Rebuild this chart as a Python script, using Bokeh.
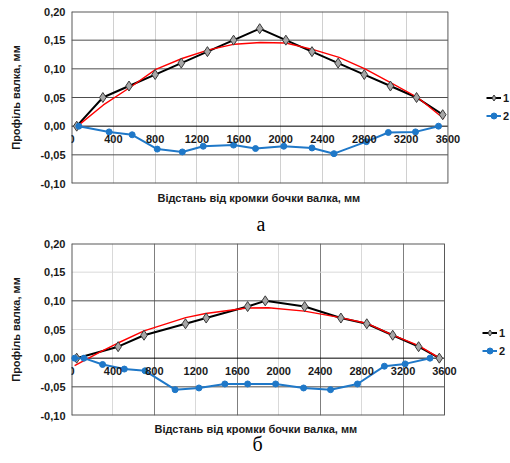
from bokeh.plotting import figure
from bokeh.layouts import column
from bokeh.models import (Range1d, FixedTicker, Grid, Title, Legend,
                          LegendItem, CustomJSTickFormatter)
from bokeh.embed import file_html
from bokeh.resources import INLINE

# ---------------- data ----------------
x_tick_vals = [0, 400, 800, 1200, 1600, 2000, 2400, 2800, 3200, 3600]
y_ticks = [-0.10, -0.05, 0.00, 0.05, 0.10, 0.15, 0.20]
x_max = 3600
y_min, y_max = -0.10, 0.20

# chart "а"
a_x1 = [50, 300, 550, 800, 1050, 1300, 1550, 1800, 2050, 2300, 2550, 2800, 3050, 3300, 3550]
a_y1 = [0.0, 0.05, 0.07, 0.09, 0.11, 0.13, 0.15, 0.17, 0.15, 0.13, 0.11, 0.09, 0.07, 0.05, 0.02]
a_x2 = [70, 360, 580, 820, 1060, 1260, 1550, 1760, 2030, 2300, 2510, 2820, 3030, 3290, 3510]
a_y2 = [0.0, -0.01, -0.015, -0.04, -0.045, -0.035, -0.033, -0.039, -0.035, -0.038, -0.048,
        -0.027, -0.011, -0.01, 0.0]
a_trend_x = [57, 305, 559, 806, 1057, 1311, 1559, 1807, 2050, 2305, 2559, 2807, 3060, 3311, 3562]
a_trend_y = [0.0, 0.037, 0.0675, 0.099, 0.118, 0.133, 0.143, 0.146, 0.145, 0.134, 0.120,
             0.100, 0.075, 0.050, 0.013]

# chart "б"
b_x1 = [50, 450, 700, 1100, 1300, 1700, 1870, 2250, 2600, 2850, 3100, 3350, 3550]
b_y1 = [0.0, 0.02, 0.04, 0.06, 0.07, 0.09, 0.10, 0.09, 0.07, 0.06, 0.04, 0.02, 0.0]
b_x2 = [30, 120, 300, 510, 710, 1000, 1230, 1480, 1700, 1970, 2240, 2500, 2760, 3020, 3220, 3460]
b_y2 = [0.0, 0.0, -0.011, -0.019, -0.022, -0.055, -0.052, -0.045, -0.045, -0.045, -0.052,
        -0.055, -0.045, -0.014, -0.010, 0.0]
b_trend_x = [30, 283, 443, 700, 1102, 1295, 1696, 1900, 2249, 2596, 2846, 3097, 3351, 3553]
b_trend_y = [-0.013, 0.0115, 0.026, 0.0475, 0.0707, 0.078, 0.0875, 0.088, 0.082, 0.0707,
             0.061, 0.0405, 0.022, 0.0]

series_labels = ["1", "2"]
x_title = "Відстань від кромки бочки валка, мм"
y_title = "Профіль валка, мм"
captions = ["а", "б"]

SANS = "Liberation Sans"
SERIF = "Liberation Serif"
TXT = "#1a1a1a"
W = 510


def build(h, ml, frame_w, mt, mb, x1, y1, x2, y2, tx, ty, caption,
          lab_standoff, lab_offset, cap_standoff, cap_offset,
          dark_x, light_x, dark_y, light_y, leg_x, leg_y):
    # plot area spans 0..3600; the frame continues to the right edge to hold the legend
    x_end = x_max * (W - ml) / frame_w
    p = figure(width=W, height=h, x_range=Range1d(0, x_end), y_range=Range1d(y_min, y_max),
               output_backend="svg", toolbar_location=None,
               min_border_left=ml, min_border_right=0, min_border_top=mt,
               min_border_bottom=mb)
    p.background_fill_color = "white"
    p.outline_line_color = None

    # vertical grid
    p.xgrid.ticker = FixedTicker(ticks=dark_x)
    p.xgrid.grid_line_color = "#7f7f7f" if light_x else "#d0d0d0"
    if light_x:
        p.add_layout(Grid(dimension=0, ticker=FixedTicker(ticks=light_x),
                          grid_line_color="#d9d9d9"))
    # horizontal grid limited to the plot area
    p.ygrid.grid_line_color = None
    if light_y:
        p.segment(x0=[0] * len(light_y), x1=[x_max] * len(light_y), y0=light_y, y1=light_y,
                  line_color="#d9d9d9", line_width=1)
    p.segment(x0=[0] * len(dark_y), x1=[x_max] * len(dark_y), y0=dark_y, y1=dark_y,
              line_color="#4d4d4d", line_width=1)
    p.segment(x0=[0], x1=[x_max], y0=[0], y1=[0], line_color="black", line_width=1)
    # plot-area border
    p.segment(x0=[0, 0, 0, x_max], x1=[x_max, x_max, 0, x_max],
              y0=[y_min, y_max, y_min, y_min], y1=[y_min, y_max, y_max, y_max],
              line_color="#595959", line_width=[2, 2, 2, 1])

    # x axis: tick labels drawn along the zero line
    xa = p.xaxis[0]
    xa.fixed_location = 0
    xa.ticker = FixedTicker(ticks=x_tick_vals)
    xa.axis_line_color = None
    xa.major_tick_line_color = None
    xa.minor_tick_line_color = None
    xa.major_tick_out = 0
    xa.major_tick_in = 0
    xa.major_label_standoff = 9
    xa.major_label_text_font = SANS
    xa.major_label_text_font_size = "11px"
    xa.major_label_text_font_style = "bold"
    xa.major_label_text_color = TXT

    # y axis
    ya = p.yaxis[0]
    ya.ticker = FixedTicker(ticks=y_ticks)
    ya.formatter = CustomJSTickFormatter(code="return tick.toFixed(2).replace('.', ',');")
    ya.axis_line_color = None
    ya.major_tick_line_color = None
    ya.minor_tick_line_color = None
    ya.major_tick_out = 0
    ya.major_label_standoff = 6
    ya.major_label_text_font = SANS
    ya.major_label_text_font_size = "11px"
    ya.major_label_text_font_style = "bold"
    ya.major_label_text_color = TXT
    ya.axis_label = y_title
    ya.axis_label_standoff = 15
    ya.axis_label_text_font = SANS
    ya.axis_label_text_font_size = "11px"
    ya.axis_label_text_font_style = "bold"
    ya.axis_label_text_color = TXT

    # series
    l1 = p.line(x1, y1, line_color="black", line_width=2)
    p.line(tx, ty, line_color="#ff0000", line_width=1.4)
    s1 = p.scatter(x1, y1, marker="diamond", size=10, fill_color="#a6a6a6",
                   line_color="#3a3a3a", line_width=1)
    l2 = p.line(x2, y2, line_color="#1f78c8", line_width=2)
    s2 = p.scatter(x2, y2, marker="circle", size=6, fill_color="#1f78c8",
                   line_color="#1f78c8")

    legend = Legend(items=[LegendItem(label=series_labels[0], renderers=[l1, s1]),
                           LegendItem(label=series_labels[1], renderers=[l2, s2])],
                    location=(leg_x, leg_y), padding=0, margin=0, spacing=3,
                    glyph_width=15, glyph_height=15, label_height=15, label_standoff=2,
                    label_text_font=SANS, label_text_font_size="11px",
                    label_text_font_style="bold", label_text_color=TXT,
                    border_line_color=None, background_fill_alpha=0)
    p.add_layout(legend)

    p.add_layout(Title(text=x_title, align="left", offset=lab_offset, text_font=SANS,
                       text_font_size="11px", text_font_style="bold",
                       text_color=TXT, standoff=lab_standoff), "below")
    p.add_layout(Title(text=caption, align="left", offset=cap_offset, text_font=SERIF,
                       text_font_size="20px", text_font_style="normal",
                       text_color="black", standoff=cap_standoff), "below")
    return p


pa = build(234, 68, 379, 11, 50, a_x1, a_y1, a_x2, a_y2, a_trend_x, a_trend_y, captions[0],
           13, 86, 0, 185,
           [400, 800, 1200, 1600, 2000, 2400, 2800, 3200], [],
           [-0.05, 0.05, 0.10, 0.15], [], 415, 60)
pb = build(229, 71, 373, 9, 48, b_x1, b_y1, b_x2, b_y2, b_trend_x, b_trend_y, captions[1],
           11, 83, -20, 181,
           [800, 1600, 2400, 3200], [400, 1200, 2000, 2800],
           [-0.05, 0.10], [0.05, 0.15], 411, 57)

layout = column(pa, pb, spacing=0)
open("out.html", "w").write(file_html(layout, INLINE))
